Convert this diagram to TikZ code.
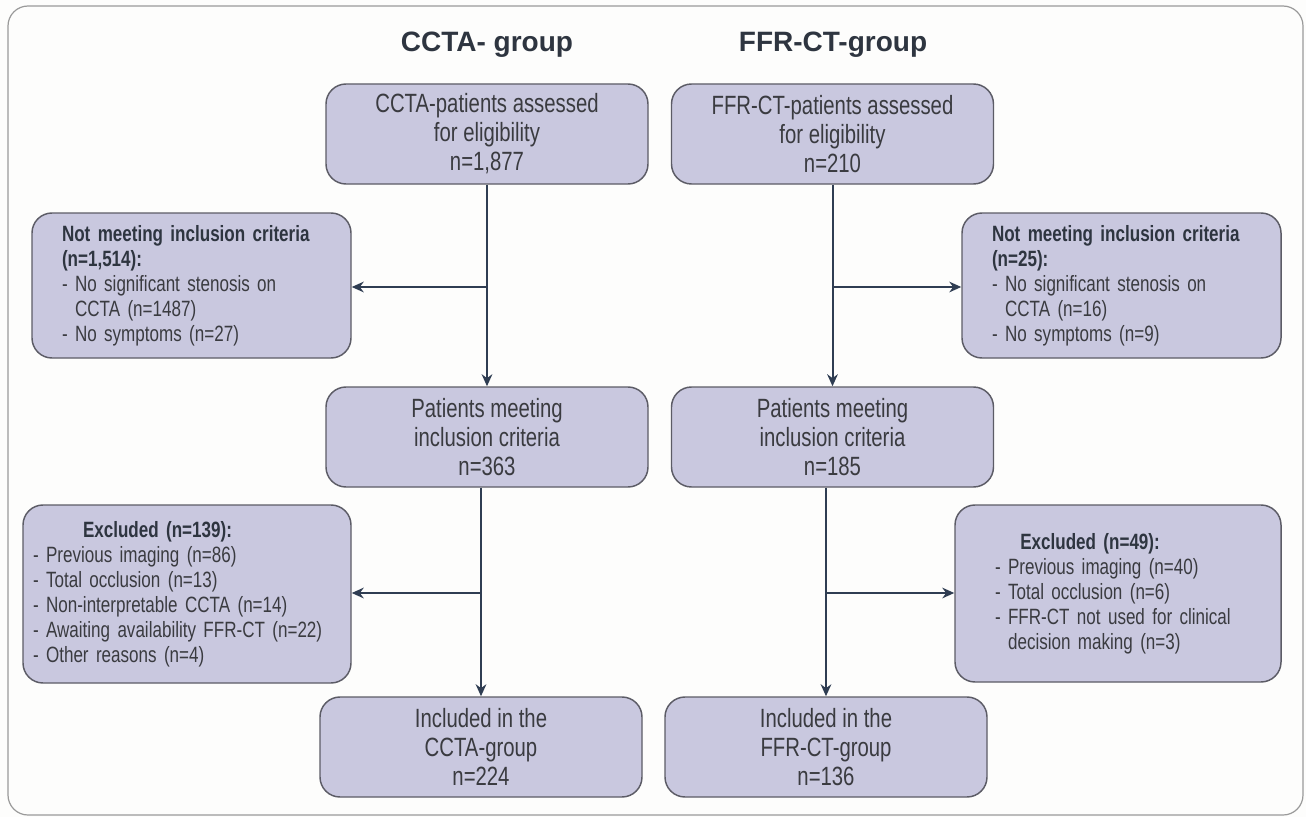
\documentclass[tikz,border=0pt]{standalone}
\usepackage{fontspec}
\setmainfont{Liberation Sans}[FakeStretch=0.77]
\newfontfamily\titlefont{Liberation Sans}
\usetikzlibrary{arrows.meta}
\definecolor{boxfill}{HTML}{C9C8DF}
\definecolor{boxline}{HTML}{5C5C66}
\definecolor{arrowcol}{HTML}{2F3D52}
\definecolor{txt}{HTML}{3A3B40}
\definecolor{hdr}{HTML}{2E3540}
\definecolor{framecol}{HTML}{9A9A9A}
\definecolor{bg}{HTML}{FDFDFC}
\begin{document}
\begin{tikzpicture}[x=0.75pt,y=-0.75pt,
  box/.style={draw=boxline, fill=boxfill, line width=1.1pt, rounded corners=15pt, text=txt, inner sep=0pt},
  bigbox/.style={box, minimum width=241.5pt, minimum height=75pt, align=center, font=\fontsize{19.8pt}{21.75pt}\selectfont},
  sidebox/.style={box, align=left, font=\fontsize{16.6pt}{18.75pt}\selectfont},
  flow/.style={draw=arrowcol, line width=1.5pt, -{Stealth[length=9pt,width=8pt]}},
  grouptitle/.style={text=hdr, font=\titlefont\bfseries\fontsize{21pt}{24pt}\selectfont}]
\useasboundingbox (0,0) rectangle (1306,817);
\fill[bg] (0,0) rectangle (1306,817);
\draw[framecol, line width=0.9pt, rounded corners=15pt] (8,6) rectangle (1303,815);

\node[grouptitle] (tA) at (487,45) {CCTA- group};
\node[grouptitle] (tB) at (833,45) {FFR-CT-group};

\node[bigbox] (A1) at (487,134) {CCTA-patients assessed\\for eligibility\\n=1,877};
\node[bigbox] (B1) at (832.5,134) {FFR-CT-patients assessed\\for eligibility\\n=210};

\node[sidebox, minimum width=239.25pt, minimum height=108.75pt, text width=194.25pt] (NA) at (191.5,285.5)
  {{\color{hdr}\bfseries Not meeting inclusion criteria}\\{\color{hdr}\bfseries (n=1,514):}\\- No significant stenosis on\\\phantom{- }CCTA (n=1487)\\- No symptoms (n=27)};
\node[sidebox, minimum width=239.25pt, minimum height=108.75pt, text width=194.25pt] (NB) at (1121.5,285.5)
  {{\color{hdr}\bfseries Not meeting inclusion criteria}\\{\color{hdr}\bfseries (n=25):}\\- No significant stenosis on\\\phantom{- }CCTA (n=16)\\- No symptoms (n=9)};

\node[bigbox] (A2) at (487,437) {Patients meeting\\inclusion criteria\\n=363};
\node[bigbox] (B2) at (832.5,437) {Patients meeting\\inclusion criteria\\n=185};

\node[sidebox, minimum width=246pt, minimum height=133.5pt, text width=231pt] (EA) at (187,594)
  {\hspace*{37.5pt}{\color{hdr}\bfseries Excluded (n=139):}\\- Previous imaging (n=86)\\- Total occlusion (n=13)\\- Non-interpretable CCTA (n=14)\\- Awaiting availability FFR-CT (n=22)\\- Other reasons (n=4)};
\node[sidebox, minimum width=244.5pt, minimum height=132.75pt, text width=184.5pt] (EB) at (1118,593.5)
  {\hspace*{19pt}{\color{hdr}\bfseries Excluded (n=49):}\\- Previous imaging (n=40)\\- Total occlusion (n=6)\\- FFR-CT not used for clinical\\\phantom{- }decision making (n=3)};

\node[bigbox] (A3) at (481,747) {Included in the\\CCTA-group\\n=224};
\node[bigbox] (B3) at (826,747) {Included in the\\FFR-CT-group\\n=136};

\coordinate (jA1) at (487,287);
\coordinate (jB1) at (832.5,287);
\coordinate (jA2) at (481,593);
\coordinate (jB2) at (826,593);

\draw[flow] (A1.south) -- (A2.north);
\draw[flow] (jA1) -- (jA1 -| NA.east);
\draw[flow] (B1.south) -- (B2.north);
\draw[flow] (jB1) -- (jB1 -| NB.west);
\draw[flow] (A3.north |- A2.south) -- (A3.north);
\draw[flow] (jA2) -- (jA2 -| EA.east);
\draw[flow] (B3.north |- B2.south) -- (B3.north);
\draw[flow] (jB2) -- (jB2 -| EB.west);
\end{tikzpicture}
\end{document}
